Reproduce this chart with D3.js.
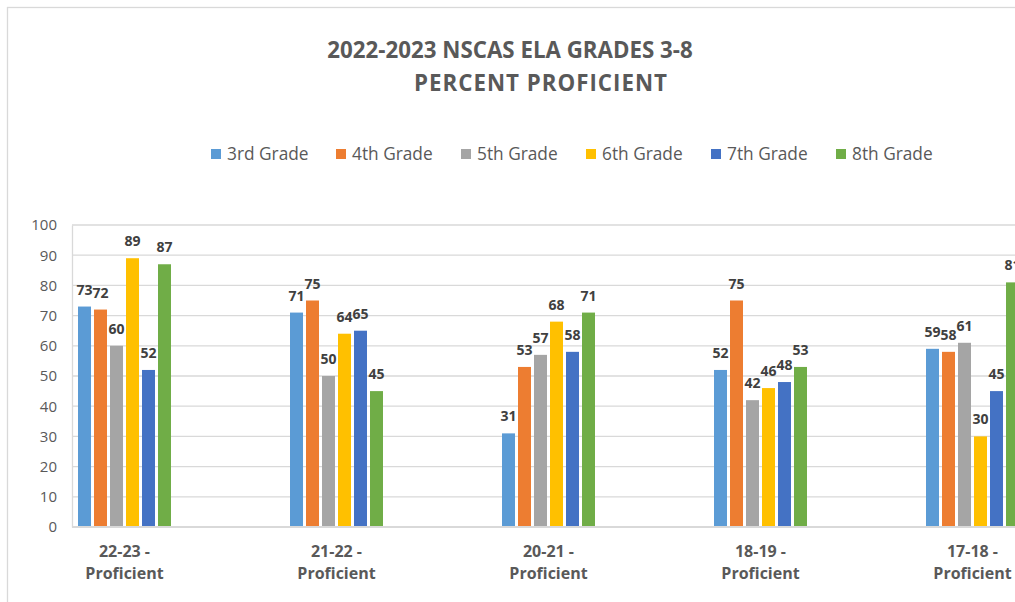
<!DOCTYPE html>
<html>
<head>
<meta charset="utf-8">
<script src="https://cdn.jsdelivr.net/npm/d3@7"></script>
<style>
  html, body { margin: 0; padding: 0; background: #fff; }
  svg { display: block; font-family: "Open Sans", "Noto Sans", sans-serif; }
</style>
</head>
<body>
<svg id="chart" width="1015" height="602"></svg>
<script>
// chart data
const years = ["22-23", "21-22", "20-21", "18-19", "17-18"];
const grades = ["3rd Grade", "4th Grade", "5th Grade", "6th Grade", "7th Grade", "8th Grade"];
const colors = ["#5B9BD5", "#ED7D31", "#A5A5A5", "#FFC000", "#4472C4", "#70AD47"];
const grade3 = [73, 71, 31, 52, 59];
const grade4 = [72, 75, 53, 75, 58];
const grade5 = [60, 50, 57, 42, 61];
const grade6 = [89, 64, 68, 46, 30];
const grade7 = [52, 65, 58, 48, 45];
const grade8 = [87, 45, 71, 53, 81];
const yTicks = [0, 10, 20, 30, 40, 50, 60, 70, 80, 90, 100];

const series = [grade3, grade4, grade5, grade6, grade7, grade8];

const svg = d3.select("#chart");
const margin = { left: 72, top: 225, bottom: 527 };
const groupStep = 212;

// chart frame
svg.append("rect")
  .attr("x", 7.5).attr("y", 7.5)
  .attr("width", 1100).attr("height", 700)
  .attr("fill", "#fff")
  .attr("stroke", "#d9d9d9")
  .attr("stroke-width", 1.3);

// title
const title = svg.append("text")
  .attr("text-anchor", "middle")
  .attr("fill", "#595959")
  .attr("font-weight", "bold")
  .attr("font-size", 22.3);
title.append("tspan").attr("x", 510).attr("y", 58).text("2022-2023 NSCAS ELA GRADES 3-8");
title.append("tspan").attr("x", 541).attr("y", 91)
  .attr("letter-spacing", 1)
  .text("PERCENT PROFICIENT");

// legend
const legend = svg.append("g").attr("class", "legend");
grades.forEach((g, i) => {
  const lx = 211 + i * 125;
  legend.append("rect")
    .attr("x", lx).attr("y", 149)
    .attr("width", 10).attr("height", 10)
    .attr("fill", colors[i]);
  legend.append("text")
    .attr("x", lx + 16).attr("y", 160)
    .attr("fill", "#595959")
    .attr("font-size", 17.3)
    .text(g);
});

// scales
const x0 = d3.scaleBand()
  .domain(years)
  .range([margin.left, margin.left + groupStep * years.length])
  .padding(0);

const x1 = d3.scaleBand()
  .domain(grades)
  .range([6, 99])
  .paddingInner(0.1875)
  .paddingOuter(0);

const y = d3.scaleLinear()
  .domain([0, 100])
  .range([margin.bottom, margin.top]);

// grid
svg.append("g")
  .selectAll("line")
  .data(yTicks.filter(t => t > 0))
  .join("line")
  .attr("x1", margin.left).attr("x2", 1100)
  .attr("y1", d => y(d)).attr("y2", d => y(d))
  .attr("stroke", "#d9d9d9")
  .attr("stroke-width", 1.3);

// y axis
const yAxis = svg.append("g")
  .attr("transform", `translate(${margin.left},0)`)
  .call(d3.axisLeft(y).tickValues(yTicks).tickSize(0).tickPadding(15));
yAxis.select(".domain")
  .attr("stroke", "#d9d9d9")
  .attr("stroke-width", 1.3);
yAxis.selectAll("text")
  .attr("fill", "#595959")
  .attr("font-size", 15)
  .attr("font-family", "\"Open Sans\", sans-serif");

// bars
const groups = svg.append("g")
  .selectAll("g")
  .data(years)
  .join("g")
  .attr("transform", d => `translate(${x0(d)},0)`);

groups.selectAll("rect")
  .data((d, i) => grades.map((g, j) => ({ grade: g, value: series[j][i], color: colors[j] })))
  .join("rect")
  .attr("x", d => x1(d.grade))
  .attr("y", d => y(d.value))
  .attr("width", x1.bandwidth())
  .attr("height", d => y(0) - y(d.value))
  .attr("fill", d => d.color);

groups.selectAll(".val")
  .data((d, i) => grades.map((g, j) => ({ grade: g, value: series[j][i] })))
  .join("text")
  .attr("class", "val")
  .attr("x", d => x1(d.grade) + x1.bandwidth() / 2)
  .attr("y", d => y(d.value) - 12)
  .attr("text-anchor", "middle")
  .attr("fill", "#404040")
  .attr("font-weight", "bold")
  .attr("font-size", 14)
  .text(d => d.value);

// x axis line
svg.append("line")
  .attr("x1", margin.left).attr("x2", 1100)
  .attr("y1", y(0)).attr("y2", y(0))
  .attr("stroke", "#d9d9d9")
  .attr("stroke-width", 2);

// x labels
const xl = groups.append("text")
  .attr("text-anchor", "middle")
  .attr("fill", "#595959")
  .attr("font-weight", "bold")
  .attr("font-size", 16);
xl.append("tspan").attr("x", 52.5).attr("y", 557).text(d => d + " -");
xl.append("tspan").attr("x", 52.5).attr("y", 579).text("Proficient");
</script>
</body>
</html>
